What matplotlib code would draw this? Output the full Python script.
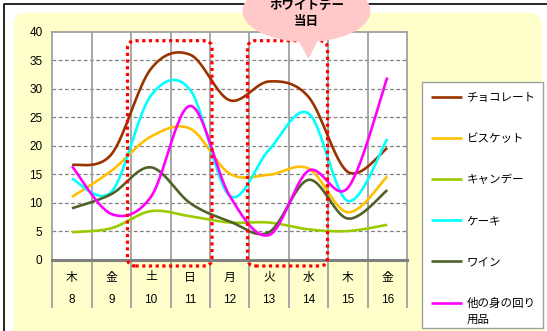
import numpy as np
import matplotlib
matplotlib.use("Agg")
import matplotlib.pyplot as plt
from matplotlib.patches import FancyBboxPatch, Ellipse, Polygon, Rectangle
from matplotlib.lines import Line2D
from matplotlib.transforms import IdentityTransform

plt.rcParams['font.family'] = ['Liberation Sans', 'Noto Sans CJK JP', 'DejaVu Sans']
JP = ['Noto Sans CJK JP', 'DejaVu Sans']

# ---- data -------------------------------------------------------------
weekdays = ['木', '金', '土', '日', '月', '火', '水', '木', '金']
days = ['8', '9', '10', '11', '12', '13', '14', '15', '16']

series_names = ['チョコレート', 'ビスケット', 'キャンデー', 'ケーキ', 'ワイン',
                '他の身の回り\n用品']
chocolate = [16.6, 18.5, 33.5, 36.0, 28.0, 31.3, 28.6, 15.4, 19.6]
biscuit = [11.0, 15.6, 21.6, 23.0, 15.1, 14.9, 16.0, 8.3, 14.6]
candy = [4.8, 5.5, 8.5, 7.6, 6.5, 6.5, 5.3, 5.0, 6.1]
cake = [14.2, 11.9, 28.8, 29.8, 11.2, 19.3, 25.7, 10.3, 21.2]
wine = [9.0, 11.5, 16.2, 9.9, 6.7, 4.8, 14.0, 7.2, 12.2]
other = [16.4, 8.0, 11.0, 27.0, 11.2, 4.3, 15.6, 12.6, 32.0]

series_values = [chocolate, biscuit, candy, cake, wine, other]
series_colors = ['#993300', '#FFC000', '#99CC00', '#00FFFF', '#4F6228', '#FF00FF']

callout_text = 'ホワイトデー\n当日'

W, H = 547, 331


def px(x, y):
    """image pixel (origin top-left) -> display coords"""
    return x, H - y


def smooth(yvals, n=30):
    """Catmull-Rom style Bezier smoothing through every point."""
    y = np.asarray(yvals, float)
    x = np.arange(len(y), dtype=float)
    P = np.column_stack([x, y])
    Pe = np.vstack([P[0], P, P[-1]])
    out = []
    t = np.linspace(0, 1, n)[:, None]
    for i in range(len(P) - 1):
        p0, p3 = P[i], P[i + 1]
        c1 = p0 + (Pe[i + 2] - Pe[i]) / 6.0
        c2 = p3 - (Pe[i + 3] - Pe[i + 1]) / 6.0
        seg = ((1 - t) ** 3) * p0 + 3 * ((1 - t) ** 2) * t * c1 \
            + 3 * (1 - t) * t ** 2 * c2 + t ** 3 * p3
        out.append(seg if i == 0 else seg[1:])
    s = np.vstack(out)
    return s[:, 0], s[:, 1]


fig = plt.figure(figsize=(W / 100, H / 100), dpi=100)
fig.patch.set_facecolor('white')

# pale yellow rounded panel
bg = FancyBboxPatch(px(13.5, 345), 542 - 13.5, 345 - 12.7,
                    boxstyle='round,pad=0,rounding_size=13',
                    transform=IdentityTransform(), facecolor='#FFFFCC',
                    edgecolor='none', zorder=-2)
fig.patches.append(bg)

# outer black frame (top and left)
fig.lines.append(Line2D([4.3, 4.3, W + 5], [-5, H - 4.3, H - 4.3],
                        transform=IdentityTransform(), color='black', lw=1.2,
                        zorder=-1))

ax_l, ax_r, ax_t, ax_b = 52.3, 407.0, 32.0, 259.5
ax = fig.add_axes([ax_l / W, 1 - ax_b / H, (ax_r - ax_l) / W, (ax_b - ax_t) / H])
ax.set_facecolor('white')
ax.set_xlim(-0.5, len(days) - 0.5)
ax.set_ylim(0, 40)

# grid
for v in range(5, 40, 5):
    ax.axhline(v, color='#808080', lw=0.9, ls=(0, (3, 2)), zorder=1)
for k in range(1, len(days)):
    ax.axvline(k - 0.5, color='#A0A0A0', lw=1.3, zorder=1)

for side in ['top', 'right', 'left']:
    ax.spines[side].set_color('#A0A0A0')
    ax.spines[side].set_linewidth(1.3)
ax.spines['bottom'].set_color('#808080')
ax.spines['bottom'].set_linewidth(2.2)

ax.set_yticks(range(0, 41, 5))
ax.set_yticklabels([str(v) for v in range(0, 41, 5)], fontsize=8.5)
ax.set_xticks([])
ax.tick_params(axis='y', length=0, pad=7)

# category separators below the axis and two-row labels
xt = ax.get_xaxis_transform()
y_low = -(307 - ax_b) / (ax_b - ax_t)
for k in range(len(days) + 1):
    ax.plot([k - 0.5, k - 0.5], [0, y_low], transform=xt, color='#A0A0A0',
            lw=1.3, clip_on=False, zorder=1)
for k, (wd, d) in enumerate(zip(weekdays, days)):
    ax.text(k, -(277 - ax_b) / (ax_b - ax_t), wd, transform=xt, ha='center',
            va='center', fontsize=8.5, family=JP)
    ax.text(k, -(300 - ax_b) / (ax_b - ax_t), d, transform=xt, ha='center',
            va='center', fontsize=8.5)

# smoothed series
for vals, col in zip(series_values, series_colors):
    sx, sy = smooth(vals)
    ax.plot(sx, sy, color=col, lw=1.9, solid_capstyle='butt', zorder=3)

# red dotted highlight boxes
for (x0, x1) in [(127.5, 212.0), (247.5, 327.5)]:
    y0, y1 = 40.7, 266.0
    box = FancyBboxPatch(px(x0, y1), x1 - x0, y1 - y0,
                         boxstyle='round,pad=0,rounding_size=8',
                         transform=IdentityTransform(), facecolor='none',
                         edgecolor='#FF0000', lw=2.3, ls=(0, (1, 1.1)),
                         zorder=5)
    fig.patches.append(box)

# speech bubble
ell = Ellipse(px(306.5, 11), 128, 62, transform=IdentityTransform(),
              facecolor='#FFC9C9', edgecolor='none', zorder=6)
fig.patches.append(ell)
tail = Polygon([px(296, 36), px(320, 36), px(308.5, 59)], closed=True,
               transform=IdentityTransform(), facecolor='#FFC9C9',
               edgecolor='none', zorder=6)
fig.patches.append(tail)
fig.text(306.5 / W, 1 - 13.5 / H, callout_text, ha='center', va='center',
         fontsize=9, fontweight='bold', family=JP, linespacing=1.4,
         zorder=7)

# legend panel
leg_x0, leg_x1, leg_y0, leg_y1 = 421.7, 543.0, 81.7, 328.0
fig.patches.append(Rectangle(px(leg_x0, leg_y1), leg_x1 - leg_x0, leg_y1 - leg_y0,
                             transform=IdentityTransform(), facecolor='white',
                             edgecolor='#A0A0A0', lw=1.0, zorder=4))
for i, (name, col) in enumerate(zip(series_names, series_colors)):
    yy = 97 + i * 41.1
    fig.lines.append(Line2D([430.7, 461.7], [H - yy, H - yy],
                            transform=IdentityTransform(), color=col, lw=1.9,
                            solid_capstyle='butt', zorder=5))
    fig.text(466.5 / W, 1 - (yy - 6) / H, name, ha='left', va='top',
             fontsize=8.3, family=JP, linespacing=1.3, zorder=5)

fig.savefig('out.png', dpi=100)
